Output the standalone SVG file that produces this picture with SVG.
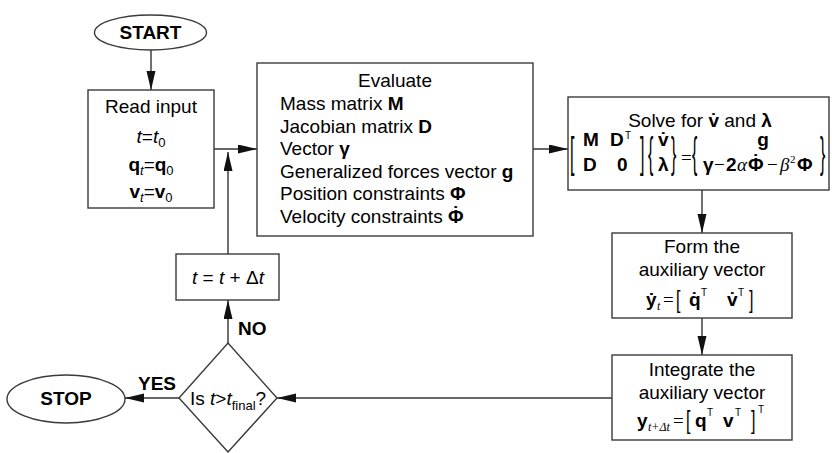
<svg xmlns="http://www.w3.org/2000/svg" width="832" height="453" viewBox="0 0 832 453">
  <style>
    text { font-family: "Liberation Sans", Arial, sans-serif; font-size: 19px; fill: #000; }
    .c { text-anchor: middle; }
    .b { font-weight: bold; }
    .i { font-style: italic; }
    .sr { font-family: "Liberation Serif", "Times New Roman", serif; }
    .sub { font-size: 13px; }
    .sub12 { font-size: 12px; }
    .sub11 { font-size: 12px; }
    .sup { font-size: 10px; }
    .sq { font-size: 11px; }
    .dl { font-size: 16px; font-weight: normal; }
    .box { fill: #fff; stroke: #3a3a3a; stroke-width: 1.4; }
    .wire { fill: none; stroke: #333; stroke-width: 1.4; }
  </style>
  <defs>
    <marker id="arrow" markerUnits="userSpaceOnUse" markerWidth="20" markerHeight="10" refX="19" refY="4.5" orient="auto">
      <path d="M0,0 L19,4.5 L0,9 z" fill="#111"/>
    </marker>
  </defs>

  <rect width="832" height="453" fill="#fff"/>

  <!-- connectors -->
  <g id="connectors">
    <line class="wire" x1="151" y1="50" x2="151" y2="90" marker-end="url(#arrow)"/>
    <line class="wire" x1="214" y1="149" x2="257" y2="149" marker-end="url(#arrow)"/>
    <line class="wire" x1="228" y1="254" x2="228" y2="152" marker-end="url(#arrow)"/>
    <line class="wire" x1="533" y1="149" x2="568" y2="149" marker-end="url(#arrow)"/>
    <line class="wire" x1="702" y1="190" x2="702" y2="233" marker-end="url(#arrow)"/>
    <line class="wire" x1="702" y1="318" x2="702" y2="355" marker-end="url(#arrow)"/>
    <line class="wire" x1="612" y1="398" x2="277" y2="398" marker-end="url(#arrow)"/>
    <line class="wire" x1="179" y1="398" x2="125" y2="398" marker-end="url(#arrow)"/>
    <line class="wire" x1="228" y1="343" x2="228" y2="300" marker-end="url(#arrow)"/>
    <text x="138" y="390" class="b">YES</text>
    <text x="238" y="335" class="b">NO</text>
  </g>

  <!-- start terminal -->
  <g id="start">
    <ellipse class="box" cx="150.5" cy="32.5" rx="56" ry="17.5"/>
    <text x="150.5" y="39" class="c b">START</text>
  </g>

  <!-- initial values -->
  <g id="read-input">
    <rect class="box" x="88" y="90" width="126" height="118"/>
    <text x="151" y="113" class="c">Read input</text>
    <text x="151" y="143" class="c"><tspan class="i">t</tspan>=<tspan class="i">t</tspan><tspan class="sub" dy="4">0</tspan></text>
    <text x="151" y="171" class="c"><tspan class="b">q</tspan><tspan class="sub i" dy="4">t</tspan><tspan dy="-4">=</tspan><tspan class="b">q</tspan><tspan class="sub" dy="4">0</tspan></text>
    <text x="151" y="198" class="c"><tspan class="b">v</tspan><tspan class="sub i" dy="4">t</tspan><tspan dy="-4">=</tspan><tspan class="b">v</tspan><tspan class="sub" dy="4">0</tspan></text>
  </g>

  <!-- evaluation of system quantities -->
  <g id="evaluate">
    <rect class="box" x="257" y="63" width="276" height="173"/>
    <text x="395" y="87" class="c">Evaluate</text>
    <text x="280" y="110">Mass matrix <tspan class="b">M</tspan></text>
    <text x="280" y="133">Jacobian matrix <tspan class="b">D</tspan></text>
    <text x="280" y="155">Vector <tspan class="b">γ</tspan></text>
    <text x="280" y="178">Generalized forces vector <tspan class="b">g</tspan></text>
    <text x="280" y="200">Position constraints <tspan class="b">Φ</tspan></text>
    <text x="280" y="223">Velocity constraints <tspan class="b">Φ</tspan><tspan class="b" dx="-11" dy="-3">˙</tspan></text>
  </g>

  <!-- linear system for accelerations and multipliers -->
  <g id="solve">
    <rect class="box" x="568" y="97" width="261" height="93"/>
    <text x="700" y="127" class="c">Solve for <tspan class="b">v̇</tspan> and <tspan class="b">λ</tspan></text>
    <text class="dl" transform="translate(570,167) scale(1,2.7)">[</text>
    <text x="583" y="146" class="b">M</text>
    <text x="583" y="171" class="b">D</text>
    <text x="610" y="146" class="b">D</text>
    <text x="625" y="139" class="sup">T</text>
    <text x="617" y="171" class="b">0</text>
    <text class="dl" transform="translate(640,167) scale(1,2.7)">]</text>
    <text class="dl" transform="translate(648,167) scale(1,2.7)">{</text>
    <text x="658" y="146" class="b">v̇</text>
    <text x="658" y="171" class="b">λ</text>
    <text class="dl" transform="translate(671,167) scale(1,2.7)">}</text>
    <text x="681" y="164" class="sr">=</text>
    <text class="dl" transform="translate(692,167) scale(1,2.7)">{</text>
    <text x="763" y="146" class="c b">g</text>
    <text x="703" y="171" class="b">γ</text>
    <text x="714" y="171" class="sr">−</text>
    <text x="726" y="171" class="b">2</text>
    <text x="737" y="171" class="sr i">α</text>
    <text x="748" y="171" class="b">Φ<tspan dx="-11" dy="-3">˙</tspan></text>
    <text x="767" y="171" class="sr">−</text>
    <text x="780" y="171" class="sr i">β</text>
    <text x="790" y="163" class="sr sq">2</text>
    <text x="797" y="171" class="b">Φ</text>
    <text class="dl" transform="translate(820,167) scale(1,2.7)">}</text>
  </g>

  <!-- state derivative -->
  <g id="form">
    <rect class="box" x="612" y="233" width="180" height="85"/>
    <text x="702" y="253" class="c">Form the</text>
    <text x="702" y="276" class="c">auxiliary vector</text>
    <text x="646" y="306" class="b">ẏ</text>
    <text x="657" y="310" class="sr i sub12">t</text>
    <text x="663" y="306" class="sr">=</text>
    <text class="dl" transform="translate(676,308) scale(1,1.5)">[</text>
    <text x="689" y="306" class="b">q̇</text>
    <text x="701" y="296" class="sup">T</text>
    <text x="727" y="306" class="b">v̇</text>
    <text x="738" y="296" class="sup">T</text>
    <text class="dl" transform="translate(749,308) scale(1,1.5)">]</text>
  </g>

  <!-- time integration -->
  <g id="integrate">
    <rect class="box" x="612" y="355" width="180" height="85"/>
    <text x="702" y="376" class="c">Integrate the</text>
    <text x="702" y="399" class="c">auxiliary vector</text>
    <text x="637" y="427" class="b">y</text>
    <text x="648" y="431" class="sr i sub11">t+Δt</text>
    <text x="673" y="427" class="sr">=</text>
    <text class="dl" transform="translate(686,429) scale(1,1.6)">[</text>
    <text x="695" y="427" class="b">q</text>
    <text x="707" y="416" class="sup">T</text>
    <text x="723" y="427" class="b">v</text>
    <text x="735" y="416" class="sup">T</text>
    <text class="dl" transform="translate(751,429) scale(1,1.6)">]</text>
    <text x="758" y="413" class="sup">T</text>
  </g>

  <!-- time step -->
  <g id="step">
    <rect class="box" x="176" y="254" width="103" height="46"/>
    <text x="228" y="284" class="c"><tspan class="i">t</tspan> = <tspan class="i">t</tspan> + Δ<tspan class="i">t</tspan></text>
  </g>

  <!-- end-time test -->
  <g id="decision">
    <polygon class="box" points="228,343 277,398 228,452 179,398"/>
    <text x="190" y="405">Is <tspan class="i">t</tspan>&gt;<tspan class="i">t</tspan><tspan class="sub" dy="5">final</tspan><tspan dy="-5">?</tspan></text>
  </g>

  <!-- stop terminal -->
  <g id="stop">
    <ellipse class="box" cx="66" cy="399" rx="59" ry="24"/>
    <text x="66" y="405" class="c b">STOP</text>
  </g>
</svg>
